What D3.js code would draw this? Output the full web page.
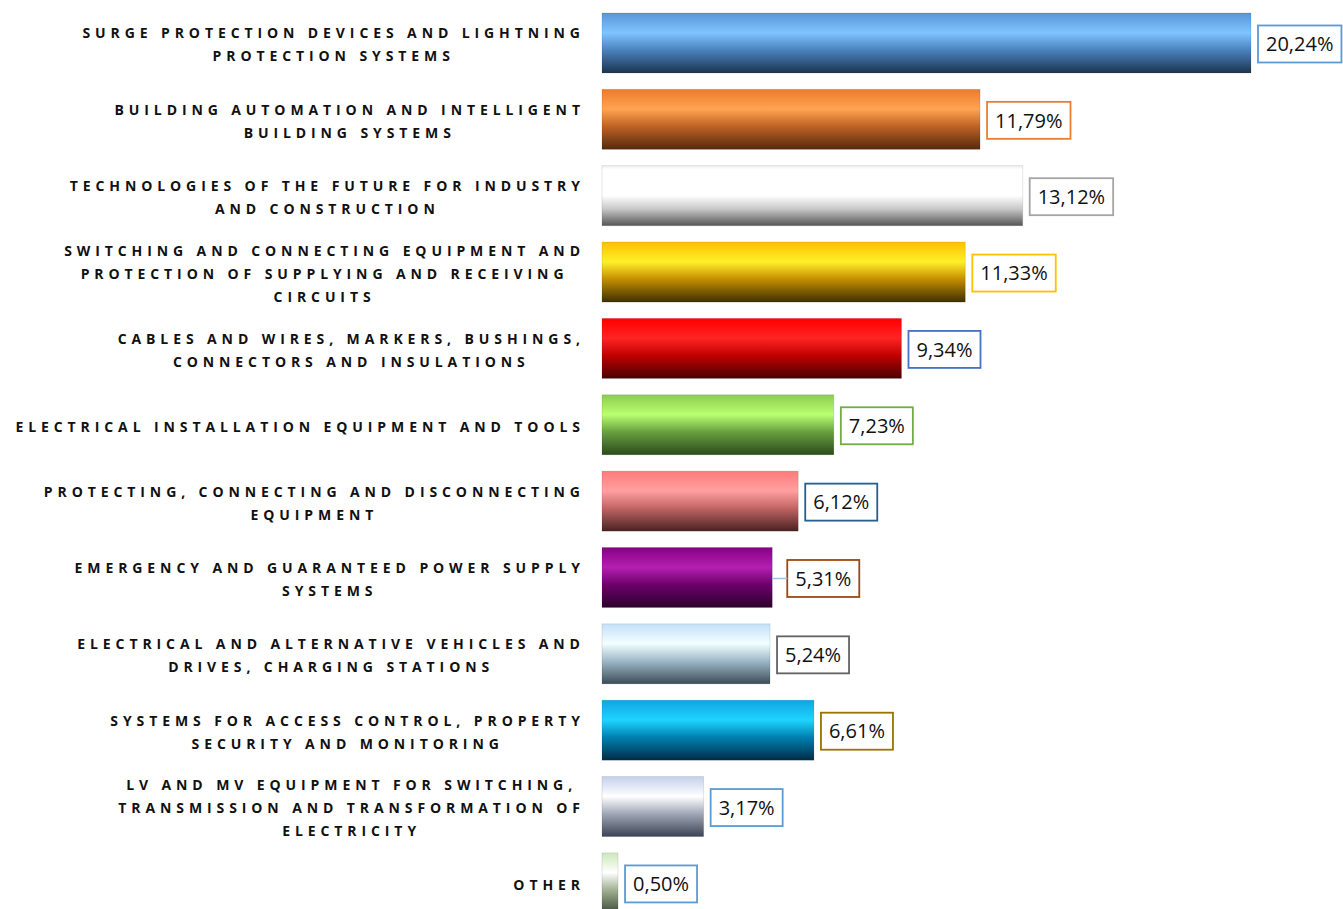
<!DOCTYPE html>
<html>
<head>
<meta charset="utf-8">
<script src="https://cdn.jsdelivr.net/npm/d3@7"></script>
<style>
  body { margin: 0; background: #fff; }
  svg { display: block; }
</style>
</head>
<body>
<svg id="chart" width="1343" height="909"></svg>
<script>
// categories (line breaks as in the original chart)
const categories = [
  ["SURGE PROTECTION DEVICES AND LIGHTNING", "PROTECTION SYSTEMS"],
  ["BUILDING AUTOMATION AND INTELLIGENT", "BUILDING SYSTEMS"],
  ["TECHNOLOGIES OF THE FUTURE FOR INDUSTRY", "AND CONSTRUCTION"],
  ["SWITCHING AND CONNECTING EQUIPMENT AND", "PROTECTION OF SUPPLYING AND RECEIVING", "CIRCUITS"],
  ["CABLES AND WIRES, MARKERS, BUSHINGS,", "CONNECTORS AND INSULATIONS"],
  ["ELECTRICAL INSTALLATION EQUIPMENT AND TOOLS"],
  ["PROTECTING, CONNECTING AND DISCONNECTING", "EQUIPMENT"],
  ["EMERGENCY AND GUARANTEED POWER SUPPLY", "SYSTEMS"],
  ["ELECTRICAL AND ALTERNATIVE VEHICLES AND", "DRIVES, CHARGING STATIONS"],
  ["SYSTEMS FOR ACCESS CONTROL, PROPERTY", "SECURITY AND MONITORING"],
  ["LV AND MV EQUIPMENT FOR SWITCHING,", "TRANSMISSION AND TRANSFORMATION OF", "ELECTRICITY"],
  ["OTHER"]
];
const values = [20.24, 11.79, 13.12, 11.33, 9.34, 7.23, 6.12, 5.31, 5.24, 6.61, 3.17, 0.50];
const valueLabels = ["20,24%", "11,79%", "13,12%", "11,33%", "9,34%", "7,23%", "6,12%", "5,31%", "5,24%", "6,61%", "3,17%", "0,50%"];

// bar gradients: top, highlight, mid, bottom
const barColors = [
  ["#5796d8", "#80c4ff", "#4a82bd", "#1c3450"],
  ["#ee7a2c", "#ffa452", "#bd6224", "#552a0c"],
  ["#eeeeee", "#ffffff", "#c8c8c8", "#555555"],
  ["#ffc000", "#fff02a", "#c48e00", "#3f3000"],
  ["#ff0000", "#ff2424", "#c00000", "#4a0000"],
  ["#8ccc4c", "#baff72", "#68a040", "#2c4a1c"],
  ["#ff7a7a", "#ffa0a0", "#c06464", "#4a2222"],
  ["#860084", "#b420b0", "#6e006c", "#2c002c"],
  ["#c4e0f8", "#f2ffff", "#9eb8c8", "#3c4c58"],
  ["#10a4e4", "#1ed4ff", "#0080b0", "#002c48"],
  ["#c4d0ec", "#ffffff", "#a0a8b8", "#3c4454"],
  ["#cce8bc", "#ffffff", "#a0b090", "#3c4c3c"]
];
const boxColors = ["#5b9bd5", "#ed7d31", "#a5a5a5", "#ffc000", "#4472c4", "#70ad47",
                   "#255e91", "#9e480e", "#636363", "#997300", "#5b9bd5", "#5b9bd5"];

const svg = d3.select("#chart");
const x0 = 602;

let x = d3.scaleLinear()
    .domain([0, 20.24])
    .range([x0, 1251]);

let y = d3.scaleBand()
    .domain(d3.range(values.length))
    .range([4.8, 921.1])
    .paddingInner(0.214)
    .paddingOuter(0.107);

// gradients
let defs = svg.append("defs");
barColors.forEach(function(c, i) {
  let g = defs.append("linearGradient")
      .attr("id", "grad" + i)
      .attr("x1", 0).attr("y1", 0).attr("x2", 0).attr("y2", 1);
  let stops = i === 2
    ? [[0, c[0]], [0.06, c[1]], [0.5, c[1]], [0.72, c[2]], [1, c[3]]]
    : [[0, c[0]], [0.33, c[1]], [0.62, c[2]], [1, c[3]]];
  stops.forEach(function(s) {
    g.append("stop").attr("offset", s[0]).attr("stop-color", s[1]);
  });
});

// bars
svg.append("g").selectAll("rect")
    .data(values)
    .join("rect")
    .attr("x", x0)
    .attr("y", (d, i) => y(i))
    .attr("width", d => x(d) - x0)
    .attr("height", y.bandwidth())
    .attr("fill", (d, i) => "url(#grad" + i + ")")
    .attr("stroke", "rgba(0,0,0,0.10)")
    .attr("stroke-width", 1);

// category labels: block right aligned, lines centred inside it
const ls = 4.9;
let labels = svg.append("g")
    .attr("font-family", "'Open Sans', sans-serif")
    .attr("font-weight", "bold")
    .attr("font-size", 14)
    .attr("letter-spacing", ls + "px")
    .attr("fill", "#111");

categories.forEach(function(lines, i) {
  let cy = y(i) + y.bandwidth() / 2 + 2;
  let g = labels.append("g");
  let texts = lines.map(function(t, j) {
    return g.append("text")
        .attr("y", cy + (j - (lines.length - 1) / 2) * 23)
        .attr("dy", "0.35em")
        .text(t);
  });
  let widths = texts.map(t => t.node().getComputedTextLength() - ls);
  let maxW = d3.max(widths);
  let center = 580 - maxW / 2;
  texts.forEach(function(t, j) {
    t.attr("x", center - widths[j] / 2);
  });
});

// value labels with boxes
let vl = svg.append("g")
    .attr("font-family", "'Open Sans', sans-serif")
    .attr("font-size", 20)
    .attr("fill", "#111");

values.forEach(function(v, i) {
  let cy = y(i) + y.bandwidth() / 2 + 1;
  let gap = i === 7 ? 15 : 7;
  let bx = x(v) + gap;
  if (i === 7) {
    vl.append("line")
        .attr("x1", x(v)).attr("x2", bx)
        .attr("y1", cy).attr("y2", cy)
        .attr("stroke", "#9dc3e6").attr("stroke-width", 1.5);
  }
  let t = vl.append("text")
      .attr("y", cy)
      .attr("dy", "0.36em")
      .text(valueLabels[i]);
  let w = t.node().getComputedTextLength();
  vl.insert("rect", "text")
      .attr("x", bx)
      .attr("y", cy - 18.5)
      .attr("width", w + 16)
      .attr("height", 37)
      .attr("fill", "#fff")
      .attr("stroke", boxColors[i])
      .attr("stroke-width", 1.8);
  t.attr("x", bx + 8);
});
</script>
</body>
</html>
